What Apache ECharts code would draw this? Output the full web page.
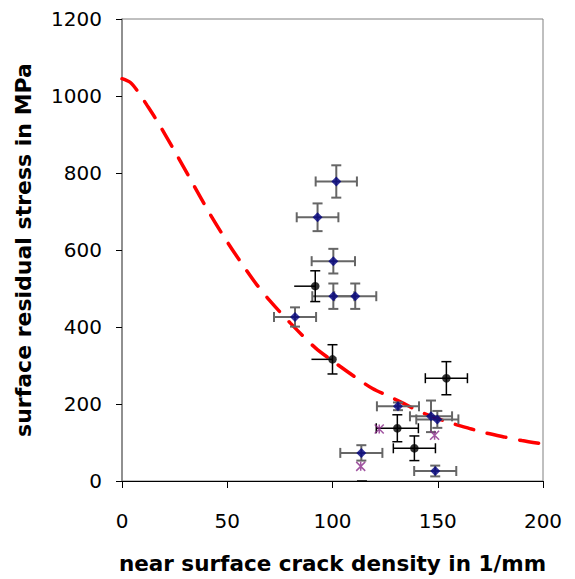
<!DOCTYPE html>
<html lang="en">
<head>
    <meta charset="UTF-8">
    <title>residual stress vs crack density</title>
    <script src="https://cdn.jsdelivr.net/npm/echarts@6/dist/echarts.min.js"></script>
    <style>
        *{margin:0;padding:0;}
        html,body{height:100%;width:100%;background:#fff;}
        #chart{height:579px;width:575px;}
    </style>
</head>
<body>
    <div id="chart"></div>
    <script>
        // blue diamonds: [x, y, x error, y error]
        var bluePts=[
            [101.8,778,9.8,42],
            [92.9,685,9.9,36],
            [100.4,571,10.3,32],
            [100.4,480,10,33],
            [110.8,480,10,33],
            [82.2,426,10,25],
            [131.1,194,10,10],
            [146.8,168,10,41],
            [149.8,160,10,22],
            [113.7,73,10,20],
            [148.8,26,10,14]
        ]
        // black dots: [x, y, x error minus, x error plus, y error]
        var blackPts=[
            [91.8,506,10,0,40],
            [100,316,10,0,38],
            [154.1,267,10,10,43],
            [130.8,137,10,10,35],
            [138.9,85,10,10,32],
            [114,-22,0,0,22]
        ]
        // purple stars
        var starPts=[
            [122.2,135],
            [148.5,119],
            [113.4,38]
        ]
        // red dashed model curve
        var curvePts=[
            [0,1045],[4,1035],[8,1008],[12,975],[17,932],[25,857],[33,779],[41,701],
            [50,621],[59,548],[64,510],[70,470],[80,410],[92,345],[100,312],[111,269],
            [119,240],[126,222],[134,201],[140,184],[146,170],[156,151],[166,135],
            [172,126],[182,114],[190,105],[200,96]
        ]
        var xTicks=[0,50,100,150,200]
        var yTicks=[0,200,400,600,800,1000,1200]

        function errBars(color,width){
            return function(params,api){
                var x=api.value(0),y=api.value(1)
                var xm=api.value(2),xp=api.value(3),ey=api.value(4)
                var l=api.coord([x-xm,y]),r=api.coord([x+xp,y])
                var t=api.coord([x,y+ey]),b=api.coord([x,y-ey])
                var st={stroke:color,lineWidth:width}
                var cap=5
                var ch=[]
                if(xm>0||xp>0){
                    ch.push({type:'line',shape:{x1:l[0],y1:l[1],x2:r[0],y2:r[1]},style:st})
                    if(xm>0&&xp>0){
                        ch.push({type:'line',shape:{x1:l[0],y1:l[1]-cap,x2:l[0],y2:l[1]+cap},style:st})
                        ch.push({type:'line',shape:{x1:r[0],y1:r[1]-cap,x2:r[0],y2:r[1]+cap},style:st})
                    }
                }
                ch.push({type:'line',shape:{x1:t[0],y1:t[1],x2:b[0],y2:b[1]},style:st})
                ch.push({type:'line',shape:{x1:t[0]-cap,y1:t[1],x2:t[0]+cap,y2:t[1]},style:st})
                ch.push({type:'line',shape:{x1:b[0]-cap,y1:b[1],x2:b[0]+cap,y2:b[1]},style:st})
                return {type:'group',children:ch}
            }
        }

        var myCharts=echarts.init(document.getElementById('chart'),null,{renderer:'svg'})
        var font='DejaVu Sans'
        var option={
            animation:false,
            grid:{left:122,right:32,top:19,bottom:97,show:true,borderColor:'#808080',borderWidth:1},
            xAxis:{
                type:'value',min:0,max:200,interval:50,
                name:'near surface crack density in 1/mm',
                nameLocation:'middle',nameGap:71,nameMoveOverlap:false,
                nameTextStyle:{fontFamily:font,fontSize:21.5,fontWeight:'bold',color:'#000'},
                axisLine:{lineStyle:{color:'#000',width:1}},
                axisTick:{inside:false,length:7,lineStyle:{color:'#000'}},
                axisLabel:{margin:30,fontFamily:font,fontSize:20,color:'#000',
                    formatter:function(v){return xTicks.indexOf(v)>=0?String(v):''}},
                splitLine:{show:false}
            },
            yAxis:{
                type:'value',min:0,max:1200,interval:200,
                name:'surface residual stress in MPa',
                nameLocation:'middle',nameGap:88,nameMoveOverlap:false,
                nameTextStyle:{fontFamily:font,fontSize:22,fontWeight:'bold',color:'#000'},
                axisLine:{lineStyle:{color:'#808080',width:1.5}},
                axisTick:{inside:false,length:6,lineStyle:{color:'#000'}},
                axisLabel:{margin:20,fontFamily:font,fontSize:20,color:'#000',
                    formatter:function(v){return yTicks.indexOf(v)>=0?String(v):''}},
                splitLine:{show:false}
            },
            series:[
                {
                    type:'line',data:curvePts,smooth:0.3,symbol:'none',z:3,
                    lineStyle:{color:'#ff0000',width:3.5,type:[19,14],cap:'round'}
                },
                {
                    type:'custom',renderItem:errBars('#666666',2),clip:true,z:4,
                    data:bluePts.map(function(p){return [p[0],p[1],p[2],p[2],p[3]]})
                },
                {
                    type:'custom',renderItem:errBars('#000000',1.5),clip:true,z:4,
                    data:blackPts
                },
                {
                    type:'scatter',symbol:'diamond',symbolSize:10,z:5,clip:true,
                    itemStyle:{color:'#000080'},
                    data:bluePts.map(function(p){return [p[0],p[1]]})
                },
                {
                    type:'scatter',symbol:'circle',symbolSize:8.5,z:5,clip:true,
                    itemStyle:{color:'#000000'},
                    data:blackPts.map(function(p){return [p[0],p[1]]})
                },
                {
                    type:'scatter',symbol:'path://M0,0L10,10M10,0L0,10M5,0L5,10',symbolSize:9,z:5,
                    itemStyle:{color:'none',borderColor:'#8a2b8a',borderWidth:1.5},
                    data:starPts
                }
            ]
        }
        myCharts.setOption(option)
        window.onresize=myCharts.resize
    </script>
</body>
</html>
